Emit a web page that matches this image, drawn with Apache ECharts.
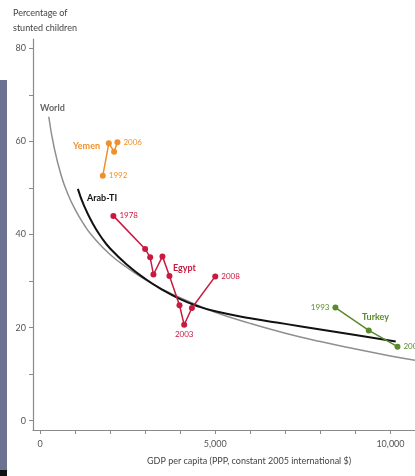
<!DOCTYPE html>
<html>
<head>
<meta charset="utf-8">
<script src="https://cdn.jsdelivr.net/npm/echarts@6/dist/echarts.min.js"></script>
<style>html,body{margin:0;padding:0;background:#fff}#c{width:415px;height:476px}</style>
</head>
<body>
<div id="c"></div>
<script>
// ---- data ----
const worldGdp   = [250, 400, 600, 800, 1000, 1250, 1500, 2000, 2500, 3000, 3500, 4000, 5000, 6000, 7000, 8000, 9000, 10000, 10700];
const worldStunt = [65.3, 58.8, 52.8, 48.6, 45.4, 42.2, 39.6, 35.7, 32.8, 30.3, 28.2, 26.4, 23.3, 20.9, 18.8, 17.0, 15.4, 13.9, 13.0];
const arabGdp    = [1080, 1250, 1500, 1750, 2000, 2500, 3000, 3500, 4000, 4500, 5000, 6000, 7000, 8000, 9000, 10150];
const arabStunt  = [49.8, 46.3, 42.4, 39.4, 37.0, 33.4, 30.5, 28.1, 26.1, 24.6, 23.5, 22.0, 20.8, 19.6, 18.4, 17.0];
const yemenGdp   = [1791, 1963, 2114, 2209];
const yemenStunt = [52.6, 59.6, 57.8, 59.8];
const yemenYears = ['1992', '', '', '2006'];
const egyptGdp   = [2094, 3000, 3143, 3237, 3494, 3694, 3980, 4114, 4334, 5000];
const egyptStunt = [44.0, 36.9, 35.1, 31.4, 35.3, 31.1, 24.8, 20.6, 24.2, 31.0];
const egyptYears = ['1978', '', '', '', '', '', '', '2003', '', '2008'];
const turkeyGdp   = [8429, 9380, 10200];
const turkeyStunt = [24.3, 19.4, 15.9];
const turkeyYears = ['1993', '', '2006'];
const yTicks = [0, 10, 20, 30, 40, 50, 60, 70, 80];
const yLabels = [0, 20, 40, 60, 80];
const xTicks = [0, 1000, 2000, 3000, 4000, 5000, 6000, 7000, 8000, 9000, 10000];
const xLabels = [0, 5000, 10000];

const FONT = 'Lato, "Open Sans", sans-serif';
const chart = echarts.init(document.getElementById('c'), null, {renderer: 'canvas'});

function pairs(xs, ys) { return xs.map((x, i) => [x, ys[i]]); }
function labelled(xs, ys, years, color, positions) {
  return xs.map((x, i) => {
    const item = {value: [x, ys[i]]};
    if (years[i]) {
      item.label = {show: true, formatter: years[i], position: positions[i] || 'right',
        distance: 3, color: color, fontSize: 8, fontFamily: FONT};
    }
    return item;
  });
}

const cYemen = '#f0902a', cEgypt = '#c8193f', cTurkey = '#5b8a2c';

chart.setOption({
  animation: false,
  backgroundColor: '#fff',
  grid: {left: 33, right: 0, top: 39, bottom: 46},
  xAxis: {
    type: 'value', min: -200, max: 10700,
    axisLine: {onZero: false, lineStyle: {color: '#8a8a8a', width: 1.2}},
    axisTick: {customValues: xTicks, length: 4, lineStyle: {color: '#8a8a8a'}},
    axisLabel: {customValues: xLabels, margin: 10, color: '#555', fontSize: 9, fontFamily: FONT,
      formatter: v => v.toLocaleString('en-US')},
    splitLine: {show: false}
  },
  yAxis: {
    type: 'value', min: -2, max: 82,
    axisLine: {show: true, onZero: false, lineStyle: {color: '#8a8a8a', width: 1.2}},
    axisTick: {show: true, customValues: yTicks, length: 4, lineStyle: {color: '#8a8a8a'}},
    axisLabel: {customValues: yLabels, margin: 7, color: '#555', fontSize: 9, fontFamily: FONT},
    splitLine: {show: false}
  },
  series: [
    {type: 'line', data: pairs(worldGdp, worldStunt), smooth: 0.5, symbol: 'none',
      lineStyle: {color: '#8f8f8f', width: 1.5}, z: 2},
    {type: 'line', data: pairs(arabGdp, arabStunt), smooth: 0.5, symbol: 'none',
      lineStyle: {color: '#111', width: 2}, z: 3},
    {type: 'line', data: labelled(yemenGdp, yemenStunt, yemenYears, cYemen, ['right', '', '', 'right']),
      symbol: 'circle', symbolSize: 6, itemStyle: {color: cYemen},
      lineStyle: {color: cYemen, width: 1.5}, z: 4},
    {type: 'line', data: labelled(egyptGdp, egyptStunt, egyptYears, cEgypt,
        ['right', '', '', '', '', '', '', 'bottom', '', 'right']),
      symbol: 'circle', symbolSize: 6, itemStyle: {color: cEgypt},
      lineStyle: {color: cEgypt, width: 1.5}, z: 4},
    {type: 'line', data: labelled(turkeyGdp, turkeyStunt, turkeyYears, cTurkey, ['left', '', 'right']),
      symbol: 'circle', symbolSize: 6, itemStyle: {color: cTurkey},
      lineStyle: {color: cTurkey, width: 1.5}, z: 4}
  ],
  graphic: [
    {type: 'rect', shape: {x: 0, y: 80, width: 7, height: 390}, style: {fill: '#6b7391'}, silent: true},
    {type: 'rect', shape: {x: 0, y: 470, width: 7, height: 6}, style: {fill: '#111'}, silent: true},
    {type: 'text', left: 13, top: 6, style: {text: 'Percentage of\nstunted children', fill: '#444',
      font: '9px ' + FONT, lineHeight: 15}},
    {type: 'text', left: 147, top: 457, style: {text: 'GDP per capita (PPP, constant 2005 international $)',
      fill: '#444', font: '9px ' + FONT}},
    {type: 'text', left: 40, top: 104, style: {text: 'World', fill: '#666', font: 'bold 9px ' + FONT}},
    {type: 'text', left: 73, top: 142, style: {text: 'Yemen', fill: cYemen, font: 'bold 9px ' + FONT}},
    {type: 'text', left: 87, top: 194, style: {text: 'Arab-TI', fill: '#111', font: 'bold 9px ' + FONT}},
    {type: 'text', left: 173, top: 264, style: {text: 'Egypt', fill: cEgypt, font: 'bold 9px ' + FONT}},
    {type: 'text', left: 362, top: 313, style: {text: 'Turkey', fill: cTurkey, font: 'bold 9px ' + FONT}}
  ]
});
</script>
</body>
</html>
